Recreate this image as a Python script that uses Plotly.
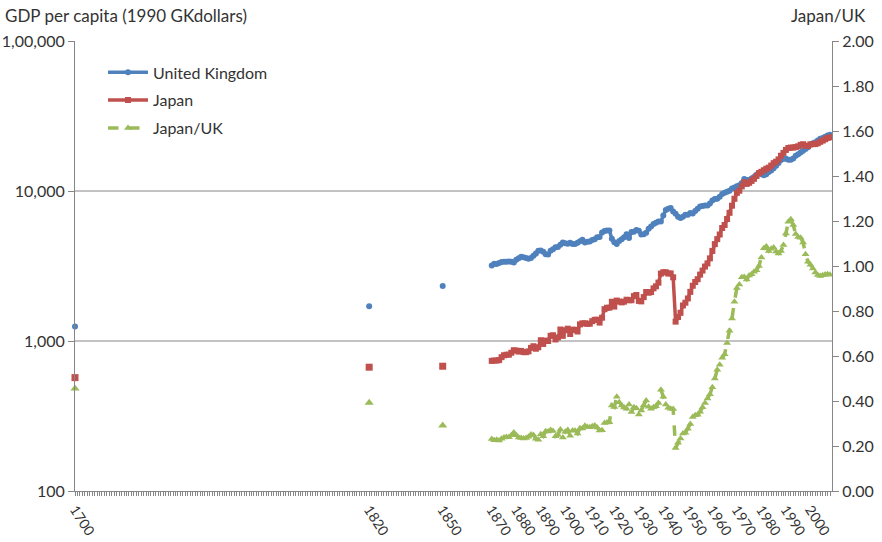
import plotly.graph_objects as go

# ---- data ----
early_years = [1700, 1820, 1850]
uk_early = [1250, 1706, 2330]
japan_early = [570, 669, 679]
ratio_early = [0.456, 0.392, 0.291]

years = list(range(1870, 2009))
uk = [3190, 3276, 3257, 3317, 3358, 3377, 3379, 3391, 3369, 3338,
      3477, 3568, 3643, 3618, 3573, 3535, 3581, 3704, 3826, 3989,
      4009, 3929, 3792, 3772, 3994, 4095, 4212, 4234, 4378, 4544,
      4492, 4450, 4525, 4427, 4428, 4520, 4631, 4727, 4528, 4582,
      4611, 4710, 4762, 4921, 4927, 5288, 5403, 5463, 5459, 4810,
      4548, 4439, 4637, 4760, 4925, 5144, 4863, 5326, 5352, 5503,
      5441, 5138, 5148, 5277, 5608, 5799, 6035, 6140, 6266, 6262,
      6856, 7482, 7615, 7709, 7308, 7056, 6746, 6604, 6746, 6956,
      6939, 7123, 7091, 7346, 7619, 7868, 7929, 8017, 8000, 8267,
      8645, 8857, 8865, 9149, 9568, 9752, 9885, 10049, 10410, 10552,
      10767, 10941, 11294, 12025, 11859, 11847, 12115, 12384, 12828, 13167,
      12931, 12747, 12955, 13404, 13720, 14165, 14742, 15393, 16110, 16414,
      16430, 16173, 16133, 16484, 17182, 17586, 18030, 18542, 19070, 19575,
      20353, 20779, 21165, 21695, 22260, 22600, 23013, 23450, 23742]
japan = [737, 741, 741, 746, 780, 803, 810, 811, 835, 868,
         863, 850, 859, 843, 843, 853, 900, 923, 888, 908,
         1012, 956, 1007, 1000, 1083, 1092, 1024, 1055, 1193, 1082,
         1180, 1208, 1113, 1189, 1188, 1157, 1291, 1312, 1312, 1301,
         1304, 1356, 1384, 1387, 1327, 1430, 1630, 1665, 1668, 1827,
         1696, 1860, 1831, 1809, 1829, 1885, 1870, 1870, 1992, 2026,
         1850, 1837, 1962, 2122, 2098, 2120, 2244, 2315, 2449, 2816,
         2874, 2873, 2818, 2822, 2659, 1346, 1444, 1541, 1725, 1800,
         1921, 2126, 2336, 2474, 2582, 2771, 2948, 3136, 3289, 3554,
         3986, 4426, 4777, 5129, 5668, 5934, 6506, 7152, 7983, 8874,
         9714, 10040, 10734, 11434, 11145, 11344, 11669, 12064, 12585, 13163,
         13428, 13754, 14078, 14307, 14773, 15332, 15680, 16251, 17185, 17943,
         18789, 19355, 19482, 19478, 19629, 19857, 20310, 20496, 20067, 19956,
         20481, 20545, 20551, 20820, 21283, 21678, 22135, 22573, 22816]
ratio = [0.231, 0.226, 0.228, 0.225, 0.232, 0.238, 0.240, 0.239, 0.248, 0.260,
         0.248, 0.238, 0.236, 0.233, 0.236, 0.241, 0.251, 0.249, 0.232, 0.228,
         0.252, 0.243, 0.266, 0.265, 0.271, 0.267, 0.243, 0.249, 0.273, 0.238,
         0.263, 0.271, 0.246, 0.269, 0.268, 0.256, 0.279, 0.278, 0.290, 0.284,
         0.283, 0.288, 0.291, 0.282, 0.269, 0.270, 0.302, 0.305, 0.306, 0.380,
         0.373, 0.419, 0.395, 0.380, 0.371, 0.366, 0.385, 0.351, 0.372, 0.368,
         0.340, 0.358, 0.381, 0.402, 0.374, 0.366, 0.372, 0.377, 0.391, 0.450,
         0.419, 0.384, 0.370, 0.366, 0.364, 0.191, 0.214, 0.233, 0.256, 0.259,
         0.277, 0.298, 0.329, 0.337, 0.339, 0.352, 0.372, 0.391, 0.411, 0.430,
         0.461, 0.500, 0.539, 0.561, 0.592, 0.608, 0.658, 0.712, 0.767, 0.841,
         0.902, 0.918, 0.950, 0.951, 0.940, 0.958, 0.963, 0.974, 0.981, 1.000,
         1.038, 1.079, 1.087, 1.067, 1.077, 1.082, 1.064, 1.056, 1.067, 1.093,
         1.144, 1.197, 1.208, 1.182, 1.142, 1.129, 1.126, 1.105, 1.052, 1.019,
         1.006, 0.989, 0.971, 0.960, 0.956, 0.959, 0.962, 0.963, 0.961]

x_ticks = [1700, 1820, 1850, 1870, 1880, 1890, 1900, 1910, 1920, 1930,
           1940, 1950, 1960, 1970, 1980, 1990, 2000]
y_ticks = [100, 1000, 10000, 100000]
y_ticktext = ["100", "1,000", "10,000", "1,00,000"]

BLUE = "#4F81BD"
RED = "#C0504D"
GREEN = "#9BBB59"
AXIS = "#868686"
TXT = "#333333"
FONT = "Lato"

fig = go.Figure()

fig.add_trace(go.Scatter(x=years, y=uk, name="United Kingdom", mode="lines+markers",
                         legendgroup="uk",
                         line=dict(color=BLUE, width=3.5),
                         marker=dict(symbol="circle", size=6, color=BLUE)))
fig.add_trace(go.Scatter(x=early_years, y=uk_early, mode="markers", legendgroup="uk",
                         showlegend=False, cliponaxis=False,
                         marker=dict(symbol="circle", size=6, color=BLUE)))

fig.add_trace(go.Scatter(x=years, y=japan, name="Japan", mode="lines+markers",
                         legendgroup="jp",
                         line=dict(color=RED, width=3.5),
                         marker=dict(symbol="square", size=6, color=RED)))
fig.add_trace(go.Scatter(x=early_years, y=japan_early, mode="markers", legendgroup="jp",
                         showlegend=False, cliponaxis=False,
                         marker=dict(symbol="square", size=7, color=RED)))

fig.add_trace(go.Scatter(x=years, y=ratio, name="Japan/UK", mode="lines+markers",
                         legendgroup="ratio", yaxis="y2",
                         line=dict(color=GREEN, width=3.5, dash="dash"),
                         marker=dict(symbol="triangle-up", size=7, color=GREEN)))
fig.add_trace(go.Scatter(x=early_years, y=ratio_early, mode="markers", legendgroup="ratio",
                         showlegend=False, yaxis="y2", cliponaxis=False,
                         marker=dict(symbol="triangle-up", size=8, color=GREEN)))

# horizontal gridlines at 1,000 and 10,000
for v in [1000, 10000]:
    fig.add_shape(type="line", xref="paper", x0=0, x1=1, yref="y", y0=v, y1=v,
                  line=dict(color=AXIS, width=1), layer="below")

fig.update_layout(
    width=882, height=542,
    margin=dict(l=75, r=50, t=41, b=51, autoexpand=False),
    paper_bgcolor="white", plot_bgcolor="white",
    font=dict(family=FONT, size=16, color=TXT),
    showlegend=True,
    legend=dict(x=0.037, y=0.968, xanchor="left", yanchor="top",
                bgcolor="rgba(0,0,0,0)", font=dict(size=16, color=TXT),
                tracegroupgap=4, itemwidth=40),
    xaxis=dict(range=[1700, 2008.8], tickmode="array", tickvals=x_ticks,
               tickangle=57, showgrid=False, zeroline=False,
               showline=True, linecolor=AXIS, linewidth=1,
               ticks="outside", ticklen=4, tickcolor=AXIS,
               minor=dict(tick0=1700, dtick=1, ticks="outside", ticklen=4,
                          tickcolor=AXIS, showgrid=False),
               tickfont=dict(size=14, color=TXT), automargin=False),
    yaxis=dict(type="log", range=[2, 5], tickmode="array", tickvals=y_ticks,
               ticktext=y_ticktext, showgrid=False, zeroline=False,
               showline=True, linecolor=AXIS, linewidth=1,
               ticks="outside", ticklen=6, tickcolor=AXIS,
               tickfont=dict(size=16, color=TXT), automargin=False),
    yaxis2=dict(overlaying="y", side="right", range=[0, 2], dtick=0.2, tick0=0,
                tickformat=".2f", showgrid=False, zeroline=False,
                showline=True, linecolor=AXIS, linewidth=1,
                ticks="outside", ticklen=6, tickcolor=AXIS,
                tickfont=dict(size=16, color=TXT), automargin=False),
    annotations=[
        dict(text="GDP per capita (1990 GKdollars)", xref="paper", yref="paper",
             x=-72 / 757, y=1 + 26 / 450, xanchor="left", yanchor="middle",
             showarrow=False, font=dict(size=17, color=TXT)),
        dict(text="Japan/UK", xref="paper", yref="paper",
             x=1 + 36 / 757, y=1 + 26 / 450, xanchor="right", yanchor="middle",
             showarrow=False, font=dict(size=17, color=TXT)),
    ],
)

fig.write_html("out.html", config={"displayModeBar": False},
               post_script="document.body.style.margin='0px';")
